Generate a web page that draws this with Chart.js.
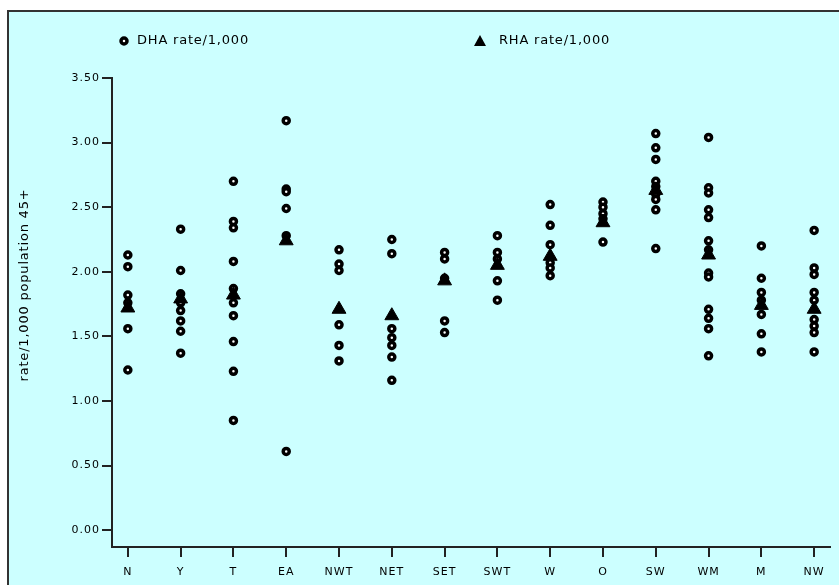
<!DOCTYPE html>
<html><head><meta charset="utf-8">
<script src="https://cdn.jsdelivr.net/npm/chart.js@4/dist/chart.umd.min.js"></script>
<style>
html,body{margin:0;padding:0;background:#fff;width:839px;height:585px;overflow:hidden;}
#frame{position:absolute;left:7px;top:10px;width:860px;height:600px;border:2px solid #333;background:#ccffff;}
#wrap{position:absolute;left:0;top:0;width:839px;height:585px;}
</style></head>
<body>
<div id="frame"></div>
<div id="wrap"><canvas id="c" width="839" height="585"></canvas></div>
<script>
const regions = ['N','Y','T','EA','NWT','NET','SET','SWT','W','O','SW','WM','M','NW'];
const yTicks = [0, 0.5, 1, 1.5, 2, 2.5, 3, 3.5];
const dhaRates = [
  [2.13, 2.04, 1.82, 1.76, 1.56, 1.24],
  [2.33, 2.01, 1.83, 1.76, 1.70, 1.62, 1.54, 1.37],
  [2.70, 2.39, 2.34, 2.08, 1.87, 1.76, 1.66, 1.46, 1.23, 0.85],
  [3.17, 2.64, 2.62, 2.49, 2.28, 0.61],
  [2.17, 2.06, 2.01, 1.59, 1.43, 1.31],
  [2.25, 2.14, 1.56, 1.49, 1.43, 1.34, 1.16],
  [2.15, 2.10, 1.95, 1.62, 1.53],
  [2.28, 2.15, 2.10, 1.93, 1.78],
  [2.52, 2.36, 2.21, 2.07, 2.03, 1.97],
  [2.54, 2.50, 2.45, 2.41, 2.23],
  [3.07, 2.96, 2.87, 2.70, 2.66, 2.60, 2.56, 2.48, 2.18],
  [3.04, 2.65, 2.61, 2.48, 2.42, 2.24, 2.17, 1.99, 1.96, 1.71, 1.64, 1.56, 1.35],
  [2.20, 1.95, 1.84, 1.78, 1.67, 1.52, 1.38],
  [2.32, 2.03, 1.98, 1.84, 1.78, 1.63, 1.58, 1.53, 1.38]
];
const rhaRates = [1.72, 1.79, 1.82, 2.24, 1.71, 1.66, 1.93, 2.05, 2.12, 2.38, 2.63, 2.13, 1.74, 1.71];

const dhaPoints = [];
dhaRates.forEach((arr, i) => arr.forEach(v => dhaPoints.push({x: i, y: v})));
const rhaPoints = rhaRates.map((v, i) => ({x: i, y: v}));

const FONT = '"DejaVu Sans", sans-serif';

const extras = {
  id: 'extras',
  beforeDraw(chart) {
    chart.ctx.letterSpacing = '1px';
  },
  afterDraw(chart) {
    const ctx = chart.ctx;
    ctx.save();
    ctx.fillStyle = '#000';
    ctx.strokeStyle = '#000';
    // legend DHA
    ctx.beginPath();
    ctx.arc(124, 41, 3, 0, Math.PI * 2);
    ctx.fillStyle = '#fff'; ctx.fill();
    ctx.lineWidth = 3.5; ctx.stroke();
    ctx.fillStyle = '#000';
    ctx.letterSpacing = '0.8px';
    ctx.font = '13px ' + FONT;
    ctx.textBaseline = 'middle';
    ctx.textAlign = 'left';
    ctx.fillText('DHA rate/1,000', 137, 41);
    // legend RHA
    ctx.beginPath();
    ctx.moveTo(480, 35); ctx.lineTo(486, 46); ctx.lineTo(474, 46); ctx.closePath();
    ctx.fill();
    ctx.fillText('RHA rate/1,000', 499, 41);
    // y title
    ctx.translate(25, 285);
    ctx.rotate(-Math.PI / 2);
    ctx.textAlign = 'center';
    ctx.letterSpacing = '0.8px';
    ctx.font = '13px ' + FONT;
    ctx.fillText('rate/1,000 population 45+', 0, 0);
    ctx.restore();
  }
};

new Chart(document.getElementById('c'), {
  type: 'scatter',
  data: {
    datasets: [
      {
        label: 'RHA rate/1,000',
        data: rhaPoints,
        pointStyle: 'triangle',
        pointRadius: 8,
        backgroundColor: '#000',
        borderColor: '#000',
        borderWidth: 1,
        order: 0
      },
      {
        label: 'DHA rate/1,000',
        data: dhaPoints,
        pointStyle: 'circle',
        pointRadius: 3,
        backgroundColor: '#fff',
        borderColor: '#000',
        borderWidth: 3.5,
        order: 1
      }
    ]
  },
  options: {
    responsive: false,
    animation: false,
    devicePixelRatio: 1,
    layout: { padding: { top: 78, left: 0, right: 4, bottom: 0 } },
    plugins: { legend: { display: false }, tooltip: { enabled: false } },
    scales: {
      x: {
        type: 'linear',
        min: -0.3, max: 13.3,
        afterBuildTicks(scale) { scale.ticks = regions.map((r, i) => ({ value: i })); },
        afterFit(scale) { scale.height = 38; },
        ticks: {
          callback: (v) => regions[v],
          color: '#000',
          font: { family: FONT, size: 11 },
          padding: 9,
          maxRotation: 0,
          autoSkip: false
        },
        grid: { drawOnChartArea: false, tickLength: 10, color: '#222', lineWidth: 2 },
        border: { color: '#222', width: 2 }
      },
      y: {
        type: 'linear',
        min: -0.13, max: 3.5,
        afterBuildTicks(scale) { scale.ticks = yTicks.map(v => ({ value: v })); },
        afterFit(scale) { scale.width = 112; },
        ticks: {
          callback: (v) => v.toFixed(2),
          color: '#000',
          font: { family: FONT, size: 11 },
          padding: 2
        },
        grid: { drawOnChartArea: false, tickLength: 10, color: '#222', lineWidth: 2 },
        border: { color: '#222', width: 2 }
      }
    }
  },
  plugins: [extras]
});
</script>
</body></html>
